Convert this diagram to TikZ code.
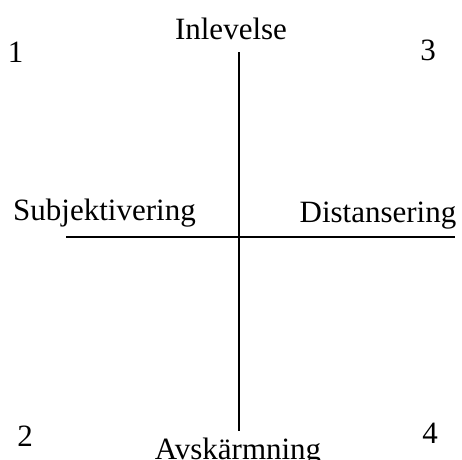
\documentclass[tikz,border=0pt]{standalone}
\usepackage{fontspec}
\setmainfont{Liberation Serif}
\begin{document}
\begin{tikzpicture}[x=1pt,y=1pt,
  lbl/.style={inner sep=0pt,anchor=base,font=\fontsize{31}{36}\selectfont},
  axis/.style={line width=1.6pt}]
\useasboundingbox (0,0) rectangle (462,459);
\clip (0,0) rectangle (462,459);
% labels (y = 459 - pixel row)
\node[lbl] (top) at (231,419) {Inlevelse};
\node[lbl] (q1) at (15.5,396) {1};
\node[lbl] (q3) at (428,399) {3};
\node[lbl] (left) at (104.5,239) {Subjektivering};
\node[lbl] (right) at (378,237) {Distansering};
\node[lbl] (q2) at (25,13) {2};
\node[lbl] (q4) at (430,16) {4};
\node[lbl] (bottom) at (238,0) {Avskärmning};
% axes
\coordinate (vt) at (239,407);
\coordinate (vb) at (239,28);
\coordinate (hl) at (66,222.3);
\coordinate (hr) at (455,222.3);
\draw[axis] (vt) -- (vb);
\draw[axis] (hl) -- (hr);
\end{tikzpicture}
\end{document}
